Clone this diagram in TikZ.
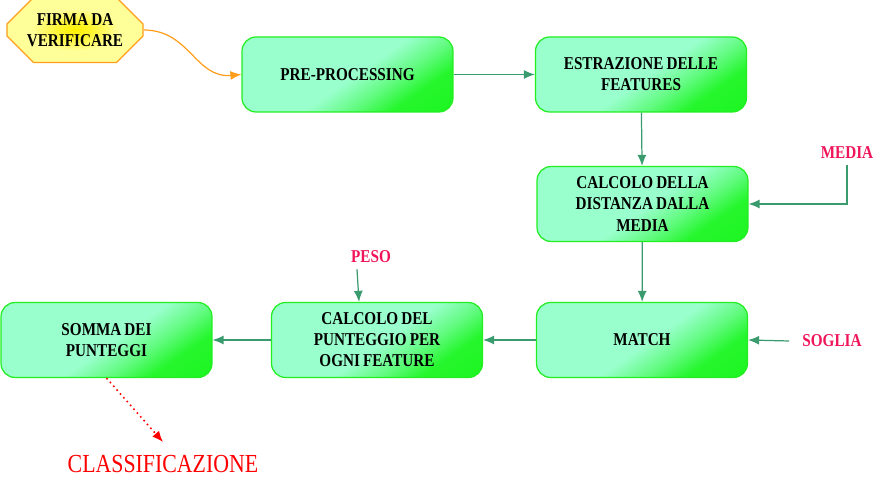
\documentclass[tikz,border=0pt]{standalone}
\usepackage{fontspec}
\newfontfamily\flowfont[FakeStretch=0.84, WordSpace=0.8]{Liberation Serif}
\usetikzlibrary{positioning,arrows.meta,shapes.misc}

\definecolor{mint}{HTML}{99FFCC}
\definecolor{boxgreen}{HTML}{22EE22}
\definecolor{glowgreen}{HTML}{11F511}
\definecolor{linegreen}{HTML}{3A9B6E}
\definecolor{tagpink}{HTML}{F0145A}
\definecolor{firmaorange}{HTML}{FF9E1B}
\definecolor{firmayellow}{HTML}{FFFF99}
\definecolor{firmacore}{HTML}{FFF000}

\pgfdeclarehorizontalshading{boxglow}{100bp}{%
  color(0bp)=(mint); color(25bp)=(mint); color(52bp)=(mint);
  color(62bp)=(glowgreen!40!mint); color(71bp)=(glowgreen!85!mint); color(100bp)=(glowgreen)}
\pgfdeclareradialshading{firmaglow}{\pgfpoint{0bp}{0bp}}{%
  color(0bp)=(firmacore); color(6bp)=(firmacore!70!firmayellow);
  color(16bp)=(firmayellow); color(50bp)=(firmayellow)}

\tikzset{
  stepbox/.style={draw=boxgreen, line width=0.7pt, rounded corners=8pt, shade, shading=boxglow,
    shading angle=-55, minimum width=4.22cm, minimum height=1.5cm, text width=3.7cm,
    align=flush center, font=\flowfont\bfseries\fontsize{10.3}{12}\selectfont},
  firmabox/.style={chamfered rectangle, chamfered rectangle xsep=7pt, chamfered rectangle ysep=8pt,
    draw=firmaorange, line width=0.7pt, shade, shading=firmaglow,
    minimum width=2.72cm, minimum height=1.2cm, inner sep=1pt, align=flush center,
    font=\flowfont\bfseries\fontsize{10.3}{12}\selectfont},
  tag/.style={text=tagpink, font=\flowfont\bfseries\fontsize{10.3}{12}\selectfont},
  flow/.style={draw=linegreen, line width=0.7pt, -{Latex[length=2.2mm,width=1.8mm]}}
}

\begin{document}
\begin{tikzpicture}[x=0.02cm, y=-0.02cm]
  \useasboundingbox (0,0) rectangle (887,492);

  % Define the blocks
  \node[firmabox] (firma) at (75,30) {FIRMA DA\\VERIFICARE};
  \node[stepbox] (pre) at (347.5,74.5) {PRE-PROCESSING};
  \node[stepbox] (estr) at (641,74.5) {ESTRAZIONE DELLE\\FEATURES};
  \node[stepbox] (dist) at (642.5,204) {CALCOLO DELLA\\DISTANZA DALLA\\MEDIA};
  \node[stepbox] (match) at (642,340) {MATCH};
  \node[stepbox] (punt) at (377,340) {CALCOLO DEL\\PUNTEGGIO PER\\OGNI FEATURE};
  \node[stepbox] (somma) at (106.5,340) {SOMMA DEI\\PUNTEGGI};

  % Define the inputs
  \node[tag] (media) at (847,153) {MEDIA};
  \node[tag] (soglia) at (832,341) {SOGLIA};
  \node[tag] (peso) at (371,257) {PESO};
  \node[text=red, font=\flowfont\fontsize{14.8}{16}\selectfont] (classif) at (163,464) {CLASSIFICAZIONE};

  % Define the edges
  \draw[firmaorange, line width=0.7pt, -{Latex[length=2.2mm,width=1.8mm]}]
    (firma.east) to[out=0, in=185, looseness=1.1] (pre.west);
  \draw[flow] (pre) -- (estr);
  \draw[flow] (estr) -- (dist);
  \draw[flow] (media.south) |- (dist.east);
  \draw[flow] (dist) -- (match);
  \draw[flow] ([xshift=-4pt]soglia.west) -- (match.east);
  \draw[flow] (match) -- (punt);
  \draw[flow] ([xshift=-0.28cm]peso.south) -- ([xshift=-0.36cm]punt.north);
  \draw[flow] (punt) -- (somma);
  \draw[red, line width=0.9pt, dotted, -{Latex[length=2.2mm,width=1.8mm]}]
    (somma.south) -- ([yshift=4pt]classif.north);
\end{tikzpicture}
\end{document}
